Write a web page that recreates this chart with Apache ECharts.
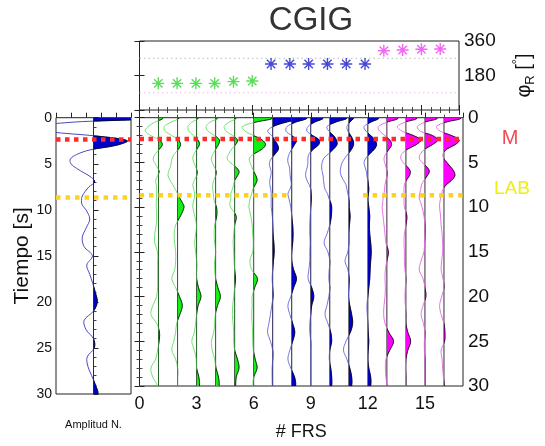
<!DOCTYPE html>
<html><head><meta charset="utf-8">
<script src="https://cdn.jsdelivr.net/npm/echarts@6/dist/echarts.min.js"></script>
<style>html,body{margin:0;padding:0;background:#fff}#c{width:545px;height:446px}</style>
</head><body><div id="c"></div>
<script>
const FONT = "'Liberation Sans', Arial, Helvetica, sans-serif";
// time samples (s)
const TIMES = [0,0.5,1,1.5,2,2.5,3,3.5,4,4.5,5,5.5,6,6.5,7,7.5,8,8.5,9,9.5,10,11,12,13,14,15,16,17,18,19,20,21,22,23,24,25,26,27,28,29,30];
// trace positions (# FRS) and group (0 green,1 blue,2 magenta)
const TRACE_X = [1,2,3,4,5,6,7,8,9,10,11,12,13,14,15,16];
const TRACE_GROUP = [0,0,0,0,0,0,1,1,1,1,1,1,2,2,2,2];
// back-azimuth per trace (deg)
const AZIMUTH = [139,139,139,139,148,151,240,240,240,240,240,240,309,313,317,318];
// receiver function amplitudes (x units) at TIMES
const TR01 = [0.25,-0.2,-0.55,-0.7,-0.4,0.05,0.2,0.05,-0.15,-0.28,-0.22,-0.08,0.03,-0.05,-0.15,-0.12,-0.1,-0.1,-0.1,-0.12,-0.12,-0.1,-0.12,-0.2,-0.2,-0.05,-0.05,-0.05,-0.05,-0.05,-0.1,-0.3,-0.4,-0.1,0.05,0.03,-0.05,-0.15,-0.4,-0.3,-0.05];
const TR02 = [0.1,-0.35,-0.7,-0.65,-0.3,0.05,0.16,0.05,-0.15,-0.28,-0.33,-0.38,-0.47,-0.5,-0.4,-0.25,-0.12,0,0.12,0.25,0.34,0.15,-0.1,-0.18,-0.15,-0.1,-0.1,-0.15,-0.3,-0.1,0.1,0.25,0.12,-0.05,-0.1,-0.2,-0.3,-0.1,0,0,0];
const TR03 = [0.1,-0.25,-0.45,-0.4,-0.15,0.08,0.15,0.02,-0.12,-0.2,-0.15,-0.05,0.03,0,-0.12,-0.2,-0.15,-0.1,-0.12,-0.18,-0.2,-0.1,0,-0.05,-0.1,-0.05,0,0,0,0.1,0.23,0.08,0,-0.05,-0.12,-0.25,-0.12,-0.02,0,0.12,0.15];
const TR04 = [0.12,-0.3,-0.5,-0.4,-0.05,0.2,0.15,0,-0.12,-0.23,-0.18,-0.08,0.03,0,-0.1,-0.15,-0.15,-0.12,-0.1,-0.05,0.05,0.06,-0.05,-0.08,-0.05,0,-0.05,-0.05,0,0.12,0.25,0.1,-0.02,-0.05,-0.1,-0.22,-0.18,-0.05,0.02,0.15,0.18];
const TR05 = [0.1,-0.3,-0.55,-0.45,-0.1,0.15,0.05,-0.15,-0.3,-0.4,-0.25,0.05,0.23,0.15,0,-0.05,-0.12,-0.2,-0.2,-0.25,-0.22,0.08,0,-0.05,-0.08,-0.05,-0.03,0,0.05,0,-0.05,-0.1,-0.12,-0.08,-0.05,-0.05,0,0.15,0.23,0.08,0.05];
const TR06 = [1.0,0.1,-0.6,-0.45,0,0.45,0.62,0.45,0.05,-0.22,-0.2,-0.1,0,0.12,0.18,0.08,-0.05,-0.1,-0.18,-0.23,-0.25,-0.15,-0.08,-0.05,-0.02,-0.05,-0.2,-0.1,0.2,0.05,-0.08,-0.08,-0.1,-0.08,-0.06,-0.05,-0.02,0.08,0.18,0,-0.05];
const TR07 = [1.7,0.7,0,-0.27,-0.05,0.1,0.25,0.3,0.15,-0.05,-0.17,-0.15,-0.08,-0.1,-0.15,-0.15,-0.1,-0.08,-0.08,-0.08,-0.08,-0.02,0,0.02,0.06,0.08,0.04,0,-0.03,0,0.02,-0.05,-0.12,-0.2,-0.27,-0.12,0,0,-0.03,-0.03,-0.02];
const TR08 = [0.8,0.2,-0.25,-0.3,0,0.25,0.15,0,-0.12,-0.2,-0.2,-0.12,-0.1,-0.08,-0.05,-0.02,-0.1,-0.2,-0.15,-0.1,-0.05,0,0.05,0.07,0.05,0,0,0.1,0.25,0.1,-0.05,-0.2,-0.1,0.05,0.16,0.05,-0.1,-0.2,-0.05,0.15,0.2];
const TR09 = [0.65,0.2,-0.15,-0.2,0.1,0.45,0.42,0.15,-0.08,-0.15,-0.15,-0.18,-0.25,-0.27,-0.2,-0.08,0,0.02,0.03,0.02,0,-0.03,-0.05,-0.05,-0.03,-0.05,-0.05,-0.1,-0.14,0.05,0.16,0.05,0,-0.05,-0.05,0,0,0,0,0,0];
const TR10 = [0.9,0.3,-0.15,-0.05,0.2,0.35,0.38,0.2,-0.05,-0.3,-0.4,-0.43,-0.4,-0.35,-0.33,-0.3,-0.25,-0.12,-0.05,0.05,0.1,0.08,0,-0.15,-0.3,-0.1,0,-0.03,-0.05,0,-0.05,-0.15,-0.25,-0.1,0.05,0.1,0,-0.03,0.05,0.1,0.1];
const TR11 = [0.25,0.05,-0.1,-0.05,0.1,0.22,0.25,0.15,-0.02,-0.2,-0.35,-0.42,-0.45,-0.4,-0.28,-0.15,-0.1,-0.05,0,0.02,0.02,0.07,0.03,0,0,-0.05,-0.2,-0.05,0.02,0,-0.02,0.05,0.15,0.2,0.08,-0.15,-0.28,-0.1,0.05,0.15,0.15];
const TR12 = [0.58,0.15,-0.2,-0.1,0.15,0.38,0.46,0.35,0.12,-0.1,-0.2,-0.15,-0.08,-0.05,0,0.03,0.05,0.03,0,0.02,0.05,0.1,0.08,0.1,0.15,0.18,0.15,0.12,0.1,0.05,0,-0.05,-0.03,0,0.02,0.05,0.02,0,0.05,0.15,0.15];
const TR13 = [0.6,0,-0.45,-0.38,-0.1,0.15,0.25,0.12,-0.05,-0.15,-0.12,-0.05,0,0,-0.05,-0.1,-0.12,-0.15,-0.2,-0.22,-0.25,-0.2,-0.15,-0.1,-0.05,0.08,0,-0.08,-0.1,-0.08,-0.1,-0.15,-0.17,-0.1,0.1,0.35,0.15,-0.05,-0.08,-0.05,0];
const TR14 = [0.6,-0.05,-0.45,-0.2,0.4,0.78,0.55,0.1,-0.2,-0.27,-0.15,0.08,0.23,0.18,0.02,-0.08,-0.1,-0.1,-0.1,-0.1,-0.08,0.05,0,-0.08,-0.1,-0.08,-0.08,-0.05,0,-0.03,-0.05,-0.03,0,0,0.1,0.25,0.1,0,-0.02,0,0];
const TR15 = [0.67,0,-0.4,-0.25,0.4,0.67,0.4,0,-0.22,-0.3,-0.15,0.1,0.23,0.12,-0.05,-0.18,-0.22,-0.28,-0.3,-0.22,-0.15,-0.05,0,0,-0.02,-0.05,-0.2,-0.3,-0.1,0,0.05,-0.1,-0.2,-0.08,0,-0.03,-0.03,0,0,0,0];
const TR16 = [0.9,0.1,-0.4,-0.2,0.4,0.8,0.6,0.15,-0.05,-0.03,0.15,0.35,0.52,0.57,0.4,0.12,-0.05,-0.12,-0.18,-0.22,-0.23,-0.18,-0.15,-0.1,-0.07,-0.07,-0.12,-0.15,-0.05,0,-0.12,-0.23,-0.15,0,0.05,0.03,-0.15,-0.1,-0.07,-0.03,0.02];
// normalized stacked trace (left panel)
const STACK = [1.6,-0.6,-1.6,-1.2,0.1,0.9,0.6,-0.1,-0.45,-0.62,-0.6,-0.45,-0.25,-0.05,0.03,-0.12,-0.22,-0.3,-0.32,-0.3,-0.2,-0.1,-0.2,-0.3,-0.25,-0.03,-0.18,-0.1,-0.02,0.05,0.1,0,-0.25,-0.2,0,0.02,-0.17,-0.15,-0.05,0.05,0.12];
// reference horizons (s)
const MOHO_T = 2.37;
const LAB_T = 8.66;
const LAB_SEGMENTS = [[0, 7.9], [11.75, 17]];

const TRACES = [TR01,TR02,TR03,TR04,TR05,TR06,TR07,TR08,TR09,TR10,TR11,TR12,TR13,TR14,TR15,TR16];
const LINE_COLORS = ['#72e072','#7474dc','#e374e3'];
const FILL_COLORS = ['#14ee14','#0000c8','#ff00ff'];
const STAR_COLORS = ['#2fd62f','#1a1acc','#f040f0'];
const SM = 0.35;

function traceShapes(amps, k, lineColor, fillColor, params, api) {
  const cs = params.coordSys;
  const pts = TIMES.map((t, j) => api.coord([k + amps[j], t]));
  const top = api.coord([k, TIMES[0] - 1]);
  const bot = api.coord([k, TIMES[TIMES.length - 1] + 1]);
  const all = [top].concat(pts, [bot]);
  const bx = api.coord([k, 0])[0];
  return {
    type: 'group',
    children: [
      {type: 'line', shape: {x1: bx, y1: cs.y, x2: bx, y2: cs.y + cs.height}, style: {stroke: '#333', lineWidth: 1}},
      {type: 'polyline', shape: {points: all, smooth: SM}, style: {stroke: lineColor, fill: null, lineWidth: 1}},
      {type: 'polyline', shape: {points: all, smooth: SM}, style: {fill: fillColor, stroke: '#000', lineWidth: 0.8},
        clipPath: {type: 'rect', shape: {x: bx, y: cs.y, width: cs.x + cs.width - bx + 2, height: cs.height}}}
    ]
  };
}

function starSeries(g) {
  const data = [];
  TRACE_X.forEach((x, i) => { if (TRACE_GROUP[i] === g) data.push([x, AZIMUTH[i]]); });
  return {
    type: 'scatter', xAxisIndex: 2, yAxisIndex: 3, data: data,
    symbol: 'path://M0,-10L0,10M-10,0L10,0M-7,-7L7,7M-7,7L7,-7',
    symbolSize: 12,
    itemStyle: {color: 'transparent', borderColor: STAR_COLORS[g], borderWidth: 1.4},
    z: 5
  };
}

const axTick = {show: true, inside: true, length: 5, lineStyle: {color: '#222'}};
const minor = (n) => ({show: true, splitNumber: n, length: 3, lineStyle: {color: '#444'}});
const lab = (fs, m) => ({fontSize: fs, color: '#111', margin: m, fontFamily: FONT});

const option = {
  animation: false,
  backgroundColor: '#fff',
  grid: [
    {left: 139.5, top: 117.7, width: 323.5, height: 276.3, show: true, borderColor: '#222', borderWidth: 1},
    {left: 56, top: 117.7, width: 75, height: 276.3, show: true, borderColor: '#222', borderWidth: 1},
    {left: 139.5, top: 41, width: 323.5, height: 69, show: true, borderColor: '#222', borderWidth: 1}
  ],
  xAxis: [
    {gridIndex: 0, type: 'value', min: 0, max: 17, interval: 3, position: 'bottom',
     axisLine: {show: false}, axisTick: axTick, minorTick: minor(3), splitLine: {show: false},
     axisLabel: Object.assign(lab(18, 9), {showMaxLabel: false}),
     name: '# FRS', nameLocation: 'middle', nameGap: 37, nameTextStyle: {fontSize: 18, color: '#111', fontFamily: FONT}},
    {gridIndex: 1, type: 'value', min: -1, max: 1, interval: 0.4, position: 'bottom',
     axisLine: {show: false}, axisTick: axTick, splitLine: {show: false}, axisLabel: {show: false},
     name: 'Amplitud N.', nameLocation: 'middle', nameGap: 25, nameTextStyle: {fontSize: 11, color: '#111', fontFamily: FONT}},
    {gridIndex: 2, type: 'value', min: 0, max: 17, interval: 3, position: 'bottom',
     axisLine: {show: false}, axisTick: axTick, minorTick: minor(6), splitLine: {show: false}, axisLabel: {show: false}},
    {gridIndex: 2, type: 'value', min: 0, max: 17, interval: 3, position: 'top',
     axisLine: {show: false}, axisTick: axTick, minorTick: minor(6), splitLine: {show: false}, axisLabel: {show: false}}
  ],
  yAxis: [
    {gridIndex: 0, type: 'value', min: 0, max: 30, interval: 5, inverse: true, position: 'right',
     axisLine: {show: false}, axisTick: axTick, minorTick: minor(5), splitLine: {show: false}, axisLabel: lab(19, 5)},
    {gridIndex: 0, type: 'value', min: 0, max: 30, interval: 5, inverse: true, position: 'left',
     axisLine: {show: false}, axisTick: axTick, minorTick: minor(5), splitLine: {show: false}, axisLabel: {show: false}},
    {gridIndex: 1, type: 'value', min: 0, max: 30, interval: 5, inverse: true, position: 'left',
     axisLine: {show: false}, axisTick: axTick, minorTick: minor(5), splitLine: {show: false}, axisLabel: lab(14, 4),
     name: 'Tiempo [s]', nameLocation: 'middle', nameGap: 21, nameTextStyle: {fontSize: 21, color: '#111', fontFamily: FONT}},
    {gridIndex: 2, type: 'value', min: 0, max: 360, interval: 180, position: 'right',
     axisLine: {show: false}, axisTick: axTick, splitLine: {show: false},
     axisLabel: Object.assign(lab(19, 5), {formatter: v => (v === 0 ? '' : String(v))}),
     name: '{a|φ}{s|R}{a| [}{p|°}{a|]}', nameLocation: 'middle', nameGap: 52,
     nameTextStyle: {color: '#111', fontFamily: FONT, fontSize: 20,
       rich: {a: {fontSize: 20, lineHeight: 26, color: '#111', fontFamily: FONT},
              s: {fontSize: 13, lineHeight: 14, verticalAlign: 'bottom', color: '#111', fontFamily: FONT},
              p: {fontSize: 13, lineHeight: 14, verticalAlign: 'top', color: '#111', fontFamily: FONT}}}},
    {gridIndex: 2, type: 'value', min: 0, max: 360, interval: 180, position: 'left',
     axisLine: {show: false}, axisTick: axTick, splitLine: {show: false}, axisLabel: {show: false}}
  ],
  graphic: [
    {type: 'text', x: 311, y: 21, style: {text: 'CGIG', fill: '#333', fontSize: 33, fontFamily: FONT, align: 'center', verticalAlign: 'middle', textAlign: 'center', textVerticalAlign: 'middle'}},
    {type: 'text', x: 510, y: 138, style: {text: 'M', fill: '#f04a55', fontSize: 20, fontFamily: FONT, align: 'center', verticalAlign: 'middle', textAlign: 'center', textVerticalAlign: 'middle'}},
    {type: 'text', x: 512, y: 189, style: {text: 'LAB', fill: '#eeee10', fontSize: 19, fontFamily: FONT, align: 'center', verticalAlign: 'middle', textAlign: 'center', textVerticalAlign: 'middle'}}
  ],
  series: [
    {type: 'custom', xAxisIndex: 0, yAxisIndex: 0, clip: true, z: 2,
     data: TRACE_X.map((x, i) => [x, i]),
     renderItem: (params, api) => {
       const i = params.dataIndex; const g = TRACE_GROUP[i];
       return traceShapes(TRACES[i], TRACE_X[i], LINE_COLORS[g], FILL_COLORS[g], params, api);
     }},
    {type: 'custom', xAxisIndex: 1, yAxisIndex: 2, clip: true, z: 2,
     data: [[0, 0]],
     renderItem: (params, api) => traceShapes(STACK, 0, '#4a4ac0', '#0000cc', params, api)},
    starSeries(0), starSeries(1), starSeries(2),
    {type: 'line', xAxisIndex: 2, yAxisIndex: 3, data: [[0, 270], [17, 270]], symbol: 'none', silent: true,
     lineStyle: {color: '#bdbdbd', width: 1, type: [1.5, 3]}, z: 1},
    {type: 'line', xAxisIndex: 2, yAxisIndex: 3, data: [[0, 90], [17, 90]], symbol: 'none', silent: true,
     lineStyle: {color: '#f2b6f2', width: 1, type: [1.5, 3]}, z: 1},
    {type: 'line', xAxisIndex: 0, yAxisIndex: 0, data: [[0, MOHO_T], [17, MOHO_T]], symbol: 'none', silent: true,
     lineStyle: {color: '#ff2a2a', width: 4.5, type: [4.5, 4.5]}, z: 10},
    {type: 'line', xAxisIndex: 1, yAxisIndex: 2, data: [[-1, MOHO_T], [1, MOHO_T]], symbol: 'none', silent: true,
     lineStyle: {color: '#ff2a2a', width: 4.5, type: [4.5, 4.5]}, z: 10},
    ...LAB_SEGMENTS.map(s => ({type: 'line', xAxisIndex: 0, yAxisIndex: 0, data: [[s[0], LAB_T], [s[1], LAB_T]], symbol: 'none', silent: true,
     lineStyle: {color: '#ffd21f', width: 4.5, type: [4.5, 5]}, z: 10})),
    {type: 'line', xAxisIndex: 1, yAxisIndex: 2, data: [[-1, LAB_T], [1, LAB_T]], symbol: 'none', silent: true,
     lineStyle: {color: '#ffd21f', width: 4.5, type: [4.5, 5]}, z: 10}
  ]
};
const chart = echarts.init(document.getElementById('c'), null, {renderer: 'canvas'});
chart.setOption(option);
</script></body></html>
